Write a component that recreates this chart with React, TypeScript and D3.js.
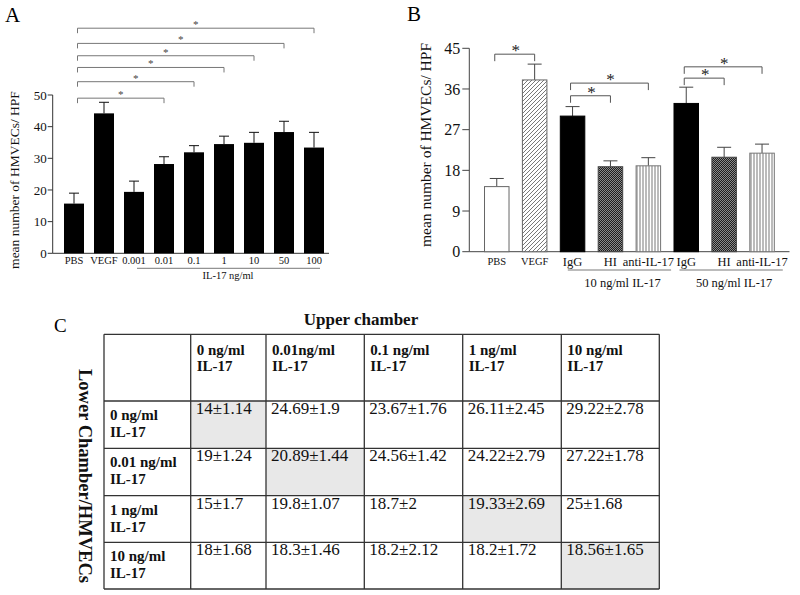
import React from "react";
import * as d3 from "d3";

// ---------- Panel A data ----------
const aCategories = ["PBS", "VEGF", "0.001", "0.01", "0.1", "1", "10", "50", "100"];
const aMeans = [15.7, 44.2, 19.4, 28.2, 31.9, 34.5, 34.9, 38.3, 33.4];
const aErrors = [3.3, 3.5, 3.4, 2.3, 2.1, 2.5, 3.3, 3.4, 4.8];
const aTicks = [0, 10, 20, 30, 40, 50];
const aGroupFrom = "0.001";
const aGroupTo = "100";
const aGroupLabel = "IL-17 ng/ml";
const aBracketFrom = "PBS";
const aBracketTargets = ["0.01", "0.1", "1", "10", "50", "100"];
const aBracketLevels = [49.0, 54.2, 58.7, 62.4, 66.3, 71.1];
const aYLabel = "mean number of HMVECs/ HPF";

// ---------- Panel B data ----------
const bIds = ["pbs", "vegf", "igg10", "hi10", "anti10", "igg50", "hi50", "anti50"];
const bLabels = ["PBS", "VEGF", "IgG", "HI", "anti-IL-17", "IgG", "HI", "anti-IL-17"];
const bMeans = [14.4, 38.0, 30.0, 18.8, 19.0, 32.8, 20.9, 21.8];
const bErrors = [1.8, 3.5, 2.1, 1.3, 1.8, 3.6, 2.2, 2.0];
const bTicks = [0, 9, 18, 27, 36, 45];
const bGroupLabels = ["10 ng/ml IL-17", "50 ng/ml IL-17"];
const bGroupFrom = ["igg10", "igg50"];
const bGroupTo = ["anti10", "anti50"];
const bBracketFrom = ["pbs", "igg10", "igg10", "igg50", "igg50"];
const bBracketTo = ["vegf", "anti10", "hi10", "anti50", "hi50"];
const bBracketLevels = [43.7, 37.3, 34.5, 40.9, 38.4];
const bYLabel = "mean number of HMVECs/ HPF";

// ---------- Panel C data ----------
const upperTitle = "Upper chamber";
const lowerTitle = "Lower Chamber/HMVECs";
const upperHeaders = ["0 ng/ml", "0.01ng/ml", "0.1 ng/ml", "1 ng/ml", "10 ng/ml"];
const lowerHeaders = ["0 ng/ml", "0.01 ng/ml", "1 ng/ml", "10 ng/ml"];
const headerSuffix = "IL-17";
const cellValues = [
  ["14±1.14", "24.69±1.9", "23.67±1.76", "26.11±2.45", "29.22±2.78"],
  ["19±1.24", "20.89±1.44", "24.56±1.42", "24.22±2.79", "27.22±1.78"],
  ["15±1.7", "19.8±1.07", "18.7±2", "19.33±2.69", "25±1.68"],
  ["18±1.68", "18.3±1.46", "18.2±2.12", "18.2±1.72", "18.56±1.65"],
];
const shadedCells = [
  [0, 0],
  [1, 1],
  [2, 3],
  [3, 4],
];

// styles (not data)
const bFillStyle = ["url(#pWhite)", "url(#pHatch)", "#000", "url(#pCheck)", "url(#pVert)", "#000", "url(#pCheck)", "url(#pVert)"];
const bStrokeStyle = ["#666", "#666", "#000", "#444", "#777", "#000", "#444", "#777"];
const FONT = "'Liberation Serif', 'Times New Roman', Times, serif";

export default function App() {
  // ----- Panel A scales -----
  const ax = d3.scaleBand<string>().domain(aCategories).range([59, 329]).paddingInner(1 / 3).paddingOuter(1 / 6);
  const ay = d3.scaleLinear().domain([0, 50]).range([253.3, 95]);
  const aw = ax.bandwidth();
  const aAxisX = 52.7;
  const acx = (c: string) => (ax(c) as number) + aw / 2;

  // ----- Panel B scales -----
  const bx = d3.scaleBand<string>().domain(bIds).range([469.3, 789.5]).paddingInner(0.327).paddingOuter(0.388);
  const by = d3.scaleLinear().domain([0, 45]).range([251.7, 48.3]);
  const bw = bx.bandwidth();
  const bAxisX = 469.3;
  const bcx = (c: string) => (bx(c) as number) + bw / 2;

  // ----- Panel C layout -----
  const colWidths = [86.7, 75.3, 98.3, 98.4, 98.6, 98];
  const rowHeights = [66.7, 47.3, 47.4, 46.6, 46.7];
  const tLeft = 104;
  const tTop = 334.3;
  const colX: number[] = [tLeft];
  colWidths.forEach((w, i) => colX.push(colX[i] + w));
  const rowY: number[] = [tTop];
  rowHeights.forEach((h, i) => rowY.push(rowY[i] + h));
  const tRight = colX[colX.length - 1];
  const tBottom = rowY[rowY.length - 1];

  return (
    <svg
      width={800}
      height={595}
      viewBox="0 0 800 595"
      style={{ position: "absolute", left: 0, top: 0, background: "#fff" }}
      fontFamily={FONT}
    >
      <defs>
        <pattern id="pWhite" width="4" height="4" patternUnits="userSpaceOnUse">
          <rect width="4" height="4" fill="#fff" />
        </pattern>
        <pattern id="pHatch" width="4" height="4" patternUnits="userSpaceOnUse">
          <rect width="4" height="4" fill="#fff" />
          <path d="M-1,1 l2,-2 M0,4 l4,-4 M3,5 l2,-2" stroke="#555" strokeWidth="0.8" />
        </pattern>
        <pattern id="pCheck" width="2" height="2" patternUnits="userSpaceOnUse">
          <rect width="2" height="2" fill="#1e1e1e" />
          <rect x="0" y="0" width="1" height="1" fill="#8a8a8a" />
          <rect x="1" y="1" width="1" height="1" fill="#8a8a8a" />
        </pattern>
        <pattern id="pVert" width="3" height="3" patternUnits="userSpaceOnUse">
          <rect width="3" height="3" fill="#fff" />
          <line x1="1" y1="0" x2="1" y2="3" stroke="#777" strokeWidth="1" />
        </pattern>
      </defs>

      {/* ================= Panel A ================= */}
      <text x={5} y={22} fontSize={21}>A</text>
      {/* brackets */}
      {aBracketTargets.map((t, i) => {
        const x1 = acx(aBracketFrom) + 3.5;
        const x2 = acx(t);
        const yy = ay(aBracketLevels[i]);
        return (
          <g key={"ab" + i}>
            <path d={`M${x1},${yy + 5} V${yy} H${x2} V${yy + 5}`} fill="none" stroke="#777" strokeWidth={1} />
            <text x={(x1 + x2) / 2} y={yy} fontSize={11} textAnchor="middle" fill="#444">*</text>
          </g>
        );
      })}
      {/* axes */}
      <line x1={aAxisX} x2={aAxisX} y1={ay(0)} y2={ay(50)} stroke="#333" strokeWidth={1} />
      <line x1={aAxisX} x2={329} y1={ay(0)} y2={ay(0)} stroke="#333" strokeWidth={1} />
      {aTicks.map((t) => (
        <g key={"at" + t}>
          <line x1={aAxisX - 5} x2={aAxisX} y1={ay(t)} y2={ay(t)} stroke="#333" strokeWidth={1} />
          <text x={aAxisX - 6} y={ay(t)} dy="0.35em" fontSize={13} textAnchor="end" fill="#111">{t}</text>
        </g>
      ))}
      {/* bars */}
      {aCategories.map((c, i) => {
        const x = ax(c) as number;
        const cx = x + aw / 2;
        return (
          <g key={"a" + c}>
            <line x1={cx} x2={cx} y1={ay(aMeans[i])} y2={ay(aMeans[i] + aErrors[i])} stroke="#111" strokeWidth={1} />
            <line x1={cx - 5} x2={cx + 5} y1={ay(aMeans[i] + aErrors[i])} y2={ay(aMeans[i] + aErrors[i])} stroke="#111" strokeWidth={1} />
            <rect x={x} y={ay(aMeans[i])} width={aw} height={ay(0) - ay(aMeans[i])} fill="#000" />
            <text x={cx} y={264} fontSize={10.5} textAnchor="middle" fill="#111">{c}</text>
          </g>
        );
      })}
      <line x1={acx(aGroupFrom) + 3} x2={acx(aGroupTo) + 6} y1={268.3} y2={268.3} stroke="#555" strokeWidth={0.8} />
      <text x={(acx(aGroupFrom) + acx(aGroupTo)) / 2 + 4} y={279} fontSize={10.5} textAnchor="middle" fill="#111">{aGroupLabel}</text>
      <text transform="translate(14,180) rotate(-90)" fontSize={13.5} textAnchor="middle" dy="0.35em" fill="#111">{aYLabel}</text>

      {/* ================= Panel B ================= */}
      <text x={407} y={21} fontSize={21}>B</text>
      {bBracketFrom.map((f, i) => {
        const x1 = bcx(f);
        const x2 = bcx(bBracketTo[i]);
        const yy = by(bBracketLevels[i]);
        return (
          <g key={"bb" + i}>
            <path d={`M${x1 - 2},${yy + 7} V${yy} H${x2} V${yy + 7}`} fill="none" stroke="#555" strokeWidth={1} />
            <text x={(x1 + x2) / 2} y={yy + 2} fontSize={17} textAnchor="middle" fill="#222">*</text>
          </g>
        );
      })}
      <line x1={bAxisX} x2={bAxisX} y1={by(0)} y2={by(45)} stroke="#444" strokeWidth={1} />
      <line x1={bAxisX} x2={789.5} y1={by(0)} y2={by(0)} stroke="#444" strokeWidth={1} />
      {bTicks.map((t) => (
        <g key={"bt" + t}>
          <line x1={bAxisX - 7} x2={bAxisX} y1={by(t)} y2={by(t)} stroke="#444" strokeWidth={1} />
          <text x={bAxisX - 9} y={by(t)} dy="0.35em" fontSize={16} textAnchor="end" fill="#111">{t}</text>
        </g>
      ))}
      {bIds.map((id, i) => {
        const x = bx(id) as number;
        const cx = x + bw / 2;
        const top = by(bMeans[i] + bErrors[i]);
        const small = i < 2;
        return (
          <g key={"b" + id}>
            <line x1={cx} x2={cx} y1={by(bMeans[i])} y2={top} stroke="#444" strokeWidth={1} />
            <line x1={cx - 7} x2={cx + 7} y1={top} y2={top} stroke="#444" strokeWidth={1} />
            <rect x={x + 0.5} y={by(bMeans[i])} width={bw - 1} height={by(0) - by(bMeans[i])} fill={bFillStyle[i]} stroke={bStrokeStyle[i]} strokeWidth={1} />
            <text x={cx} y={small ? 265 : 266} fontSize={small ? 10.5 : 12.5} textAnchor="middle" fill="#111">{bLabels[i]}</text>
          </g>
        );
      })}
      {bGroupLabels.map((g, i) => {
        const x1 = (bx(bGroupFrom[i]) as number) + (i === 0 ? 8 : 6);
        const x2 = (bx(bGroupTo[i]) as number) + bw + (i === 0 ? 10 : 8);
        return (
          <g key={"bg" + i}>
            <line x1={x1} x2={x2} y1={270} y2={270} stroke="#555" strokeWidth={0.8} />
            <text x={(x1 + x2) / 2 + 3} y={287} fontSize={12.5} textAnchor="middle" fill="#111">{g}</text>
          </g>
        );
      })}
      <text transform="translate(426,145) rotate(-90)" fontSize={15.5} textAnchor="middle" dy="0.35em" fill="#111">{bYLabel}</text>

      {/* ================= Panel C ================= */}
      <text x={54} y={332} fontSize={19}>C</text>
      <text x={361} y={325} fontSize={17} fontWeight="bold" textAnchor="middle" fill="#111">{upperTitle}</text>
      <text transform="translate(85,476) rotate(90)" fontSize={18.5} fontWeight="bold" textAnchor="middle" dy="0.35em" fill="#111">{lowerTitle}</text>
      {shadedCells.map(([r, c]) => (
        <rect key={"s" + r + c} x={colX[c + 1]} y={rowY[r + 1]} width={colWidths[c + 1]} height={rowHeights[r + 1]} fill="#e8e8e8" />
      ))}
      {/* grid */}
      {colX.map((x, i) => (
        <line key={"cx" + i} x1={x} x2={x} y1={tTop} y2={tBottom} stroke="#333" strokeWidth={1.3} />
      ))}
      {rowY.map((y, i) => (
        <line key={"ry" + i} x1={tLeft} x2={tRight} y1={y} y2={y} stroke="#333" strokeWidth={1.3} />
      ))}
      {upperHeaders.map((h, i) => (
        <text key={"uh" + i} fontSize={15} fontWeight="bold" fill="#111">
          <tspan x={colX[i + 1] + 6} y={rowY[0] + 21}>{h}</tspan>
          <tspan x={colX[i + 1] + 6} y={rowY[0] + 37}>{headerSuffix}</tspan>
        </text>
      ))}
      {lowerHeaders.map((h, i) => (
        <text key={"lh" + i} fontSize={15} fontWeight="bold" fill="#111">
          <tspan x={tLeft + 6} y={rowY[i + 1] + 19}>{h}</tspan>
          <tspan x={tLeft + 6} y={rowY[i + 1] + 36}>{headerSuffix}</tspan>
        </text>
      ))}
      {cellValues.map((row, r) =>
        row.map((v, c) => (
          <text key={"cv" + r + c} x={colX[c + 1] + 5} y={rowY[r + 1] + 13} fontSize={17} fill="#111">{v}</text>
        ))
      )}
    </svg>
  );
}
